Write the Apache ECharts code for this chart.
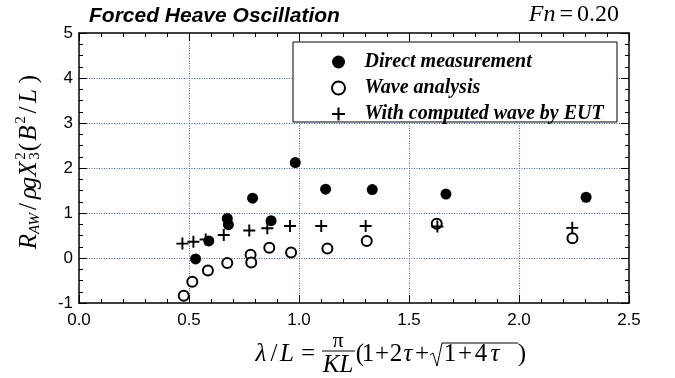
<!DOCTYPE html>
<html>
<head>
<meta charset="utf-8">
<script src="https://cdn.jsdelivr.net/npm/echarts@6/dist/echarts.min.js"></script>
<style>html,body{margin:0;padding:0;background:#fff}#c{width:675px;height:378px}</style>
</head>
<body>
<div id="c"></div>
<script>
// ---- data ----
const seriesNames = ['Direct measurement', 'Wave analysis', 'With computed wave by EUT'];
const directX = [0.53, 0.59, 0.674, 0.679, 0.789, 0.873, 0.983, 1.121, 1.333, 1.668, 2.305];
const directY = [-0.02, 0.38, 0.88, 0.74, 1.33, 0.83, 2.12, 1.53, 1.52, 1.42, 1.35];
const waveX = [0.476, 0.515, 0.586, 0.674, 0.780, 0.783, 0.865, 0.964, 1.129, 1.308, 1.626, 2.243];
const waveY = [-0.84, -0.53, -0.28, -0.11, 0.07, -0.10, 0.23, 0.12, 0.21, 0.38, 0.76, 0.44];
const eutX = [0.470, 0.520, 0.576, 0.658, 0.774, 0.856, 0.959, 1.101, 1.303, 1.629, 2.242];
const eutY = [0.32, 0.36, 0.41, 0.51, 0.61, 0.66, 0.71, 0.71, 0.71, 0.70, 0.67];
const xTicks = {min: 0, max: 2.5, step: 0.5};
const yTicks = {min: -1, max: 5, step: 1};

const pairs = (xs, ys) => xs.map((x, i) => [x, ys[i]]);
const plusPath = 'path://M8.4,0H11.6V8.4H20V11.6H11.6V20H8.4V11.6H0V8.4H8.4Z';
const SERIF = '"Liberation Serif","Times New Roman",serif';
const SANS = '"Liberation Sans",Arial,sans-serif';

const chart = echarts.init(document.getElementById('c'), null, {renderer: 'canvas'});

const axisBase = {
  type: 'value',
  axisLine: {show: true, onZero: false, lineStyle: {color: '#000', width: 1.5}},
  axisTick: {show: true, inside: true, length: 8, lineStyle: {color: '#000', width: 1}},
  minorTick: {show: true, length: 4, lineStyle: {color: '#000', width: 1}},
  splitLine: {show: false},
  minorSplitLine: {show: false}
};
const grid = {left: 79, right: 46, top: 33, bottom: 75};
const splitStyle = {show: true, showMinLine: false, showMaxLine: false,
  lineStyle: {color: '#3a5cb5', width: 1, type: [1, 1.5]}};

function t(x, y, text, size, italic, align) {
  return {type: 'text', x: x, y: y, z: 10, style: {text: text, fontFamily: SERIF, fontSize: size,
    fontStyle: italic ? 'italic' : 'normal', fill: '#000', align: align || 'center', verticalAlign: 'middle'}};
}
const xl = 354, F = 25;
const xLabel = [
  t(261, xl, 'λ', F, true), t(274, xl, '/', F, false), t(287, xl, 'L', F, true),
  t(308, xl, '=', F, false),
  t(338, 341, 'π', 22, false),
  {type: 'line', z: 10, shape: {x1: 322, y1: 351, x2: 355, y2: 351}, style: {stroke: '#000', lineWidth: 1}},
  t(338, 365, 'KL', F, true),
  t(360, xl, '(', F, false), t(368, xl, '1', F, false), t(382, xl, '+', F, false),
  t(396, xl, '2', F, false), t(408, xl, 'τ', F, true), t(422, xl, '+', F, false),
  {type: 'polyline', z: 10, shape: {points: [[430, 355], [433, 353], [437, 366], [442, 343], [518, 343]]},
    style: {stroke: '#000', fill: null, lineWidth: 1}},
  t(450, xl, '1', F, false), t(465, xl, '+', F, false), t(481, xl, '4', F, false),
  t(495, xl, 'τ', F, true), t(522, xl, ')', F, false)
];
const yLabelChildren = [
  t(8.5, 0, 'R', F, true), t(26.5, 6, 'AW', 15, true), t(43.5, 0, '/', F, false),
  t(57, 0, 'ρ', F, true), t(67, 0, 'g', F, true), t(81, 0, 'X', F, true),
  t(94, -8, '2', 15, false), t(94, 6, '3', 15, false),
  t(103, 0, '(', F, false), t(117, 0, 'B', F, true), t(130, -8, '2', 15, false),
  t(140, 0, '/', F, false), t(154, 0, 'L', F, true), t(171, 0, ')', F, false)
];

const option = {
  backgroundColor: '#fff',
  animation: false,
  grid: grid,
  xAxis: [
    Object.assign({}, axisBase, {position: 'bottom', min: xTicks.min, max: xTicks.max, interval: xTicks.step,
      minorTick: Object.assign({}, axisBase.minorTick, {splitNumber: 5}),
      axisLabel: {show: true, color: '#000', fontFamily: SANS, fontSize: 17, margin: 9,
        formatter: v => v.toFixed(1)},
      splitLine: splitStyle}),
    Object.assign({}, axisBase, {position: 'top', min: xTicks.min, max: xTicks.max, interval: xTicks.step,
      minorTick: Object.assign({}, axisBase.minorTick, {splitNumber: 5}),
      axisLabel: {show: false}})
  ],
  yAxis: [
    Object.assign({}, axisBase, {position: 'left', min: yTicks.min, max: yTicks.max, interval: yTicks.step,
      minorTick: Object.assign({}, axisBase.minorTick, {splitNumber: 4}),
      axisLabel: {show: true, color: '#000', fontFamily: SANS, fontSize: 17, margin: 6},
      splitLine: splitStyle}),
    Object.assign({}, axisBase, {position: 'right', min: yTicks.min, max: yTicks.max, interval: yTicks.step,
      minorTick: Object.assign({}, axisBase.minorTick, {splitNumber: 4}),
      axisLabel: {show: false}})
  ],
  legend: {
    show: true, orient: 'vertical', left: 307, top: 42, z: 6,
    padding: [10, 10, 0, 24], itemWidth: 42, itemHeight: 13, itemGap: 6,
    backgroundColor: 'transparent', borderWidth: 0,
    textStyle: {fontFamily: SERIF, fontSize: 20, fontWeight: 'bold', fontStyle: 'italic', color: '#000'},
    data: seriesNames
  },
  graphic: [
    {type: 'rect', z: 5, shape: {x: 293, y: 42, width: 324, height: 80},
      style: {fill: '#fff', stroke: '#000', lineWidth: 1}},
    {type: 'text', x: 89, y: 16, z: 10, style: {text: 'Forced Heave Oscillation', fontFamily: SANS,
      fontSize: 21, fontWeight: 'bold', fontStyle: 'italic', fill: '#000', align: 'left', verticalAlign: 'middle'}},
    {type: 'text', x: 619, y: 15, z: 10, style: {text: '{i|Fn}{e|=}{n|0.20}', align: 'right', verticalAlign: 'middle',
      rich: {i: {fontFamily: SERIF, fontSize: 24, fontStyle: 'italic', color: '#000'},
             e: {fontFamily: SERIF, fontSize: 24, color: '#000', padding: [0, 4, 0, 4]},
             n: {fontFamily: SERIF, fontSize: 24, color: '#000'}}}},
    {type: 'group', x: 29, y: 250, rotation: Math.PI / 2, children: yLabelChildren},
    {type: 'group', children: xLabel}
  ],
  series: [
    {name: seriesNames[0], type: 'scatter', symbol: 'circle', symbolSize: 11, z: 3,
      itemStyle: {color: '#000', opacity: 1}, data: pairs(directX, directY)},
    {name: seriesNames[1], type: 'scatter', symbol: 'emptyCircle', symbolSize: 10, z: 3,
      itemStyle: {color: '#000', borderColor: '#000', borderWidth: 1.3, opacity: 1}, data: pairs(waveX, waveY)},
    {name: seriesNames[2], type: 'scatter', symbol: plusPath, symbolSize: 12, z: 4,
      itemStyle: {color: '#000', opacity: 1}, data: pairs(eutX, eutY)}
  ]
};
chart.setOption(option);
</script>
</body>
</html>
